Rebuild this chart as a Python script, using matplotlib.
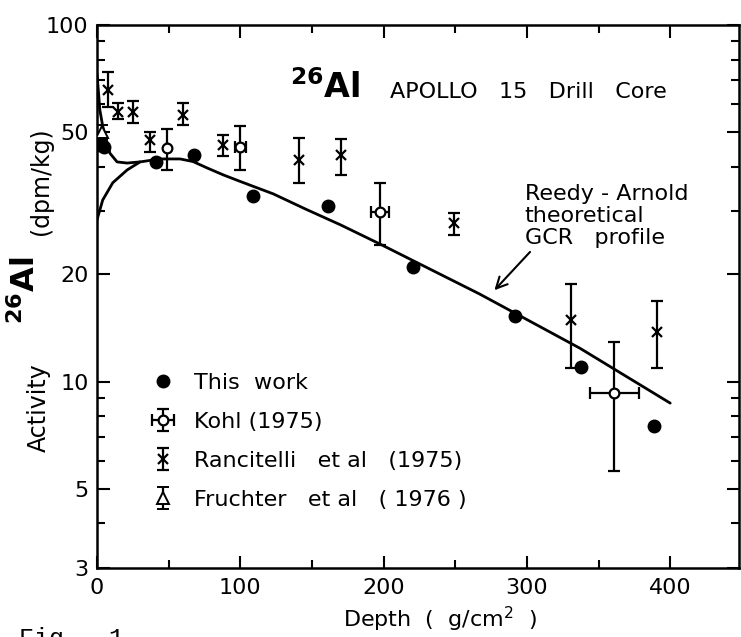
import matplotlib
matplotlib.use("Agg")
import matplotlib.pyplot as plt
from matplotlib.ticker import FixedLocator, NullFormatter, FixedFormatter

# ---- data ----
this_depth = [2, 5, 41, 68, 109, 161, 220.5, 292, 338, 389]
this_act = [46.0, 45.5, 41.3, 43.2, 33.1, 31.1, 21.0, 15.3, 11.0, 7.5]

kohl_depth = [49, 100, 197.5, 361]
kohl_act = [45.2, 45.5, 29.9, 9.3]
kohl_lo = [39.2, 39.2, 24.1, 5.6]
kohl_hi = [51.1, 52.1, 36.1, 12.9]
kohl_xerr = [0, 4, 6, 17]

ranc_depth = [8, 15, 25, 37, 60, 88, 141, 170, 249, 331, 391]
ranc_act = [65.7, 57.0, 57.0, 47.6, 55.9, 46.1, 41.8, 43.2, 27.8, 14.9, 13.8]
ranc_lo = [58.9, 54.5, 53.1, 44.0, 52.4, 42.9, 36.1, 38.0, 25.8, 10.9, 10.9]
ranc_hi = [73.8, 60.4, 61.2, 50.1, 60.4, 49.1, 48.2, 47.9, 29.7, 18.8, 16.8]

fru_depth = [3.5]
fru_act = [50.2]
fru_lo = [48.0]
fru_hi = [52.5]

gcr_depth = [0, 4, 11, 21, 30, 44, 58, 67, 77, 88, 100, 123, 146, 170, 197.5, 267, 337, 400]
gcr_act = [28.4, 32.3, 36.1, 39.2, 41.3, 42.1, 42.1, 41.4, 39.7, 38.0, 36.4, 33.6, 30.4, 27.5,
           24.3, 17.6, 12.4, 8.7]

scr_depth = [0, 1, 2, 4, 6, 9, 14, 21, 30]
scr_act = [73.0, 65.0, 57.7, 52.0, 48.5, 43.7, 41.3, 41.0, 41.3]

yticks = [3, 5, 10, 20, 50, 100]
yminor = [4, 6, 7, 8, 9, 30, 40, 60, 70, 80, 90]
xticks = [0, 100, 200, 300, 400]
xminor = [50, 150, 250, 350]

# ---- figure ----
plt.rcParams['font.family'] = ['DejaVu Sans']
fig = plt.figure(figsize=(7.41, 6.37), dpi=100)
ax = fig.add_axes([0.1309, 0.1083, 0.8664, 0.8525])
ax.set_yscale('log')
ax.set_xlim(0, 448)
ax.set_ylim(3, 100)

lw = 1.6
ax.plot(gcr_depth, gcr_act, color='black', lw=2.0, solid_capstyle='round',
        solid_joinstyle='round', zorder=2)
ax.plot(scr_depth, scr_act, color='black', lw=2.0, solid_capstyle='round',
        solid_joinstyle='round', zorder=2)

h_this, = ax.plot(this_depth, this_act, 'o', color='black', ms=9, ls='none', zorder=4)

kerr = [[a - l for a, l in zip(kohl_act, kohl_lo)], [h - a for a, h in zip(kohl_act, kohl_hi)]]
h_kohl = ax.errorbar(kohl_depth, kohl_act, yerr=kerr, xerr=kohl_xerr, fmt='o', mfc='white',
                     mec='black', mew=1.6, ms=7, ecolor='black', elinewidth=lw, capsize=4,
                     capthick=lw, zorder=5)

rerr = [[a - l for a, l in zip(ranc_act, ranc_lo)], [h - a for a, h in zip(ranc_act, ranc_hi)]]
h_ranc = ax.errorbar(ranc_depth, ranc_act, yerr=rerr, fmt='x', color='black', mew=1.6, ms=7,
                     ecolor='black', elinewidth=lw, capsize=4, capthick=lw, zorder=5)

ferr = [[a - l for a, l in zip(fru_act, fru_lo)], [h - a for a, h in zip(fru_act, fru_hi)]]
h_fru = ax.errorbar(fru_depth, fru_act, yerr=ferr, fmt='^', mfc='white', mec='black', mew=1.4,
                    ms=8, ecolor='black', elinewidth=lw, capsize=4, capthick=lw, zorder=5)

# ticks
for s in ax.spines.values():
    s.set_linewidth(1.8)
ax.yaxis.set_major_locator(FixedLocator(yticks))
ax.yaxis.set_major_formatter(FixedFormatter([str(v) for v in yticks]))
ax.yaxis.set_minor_locator(FixedLocator(yminor))
ax.yaxis.set_minor_formatter(NullFormatter())
ax.xaxis.set_major_locator(FixedLocator(xticks))
ax.xaxis.set_minor_locator(FixedLocator(xminor))
ax.tick_params(which='both', direction='in', top=True, right=True, width=1.5, labelsize=16)
ax.tick_params(which='major', length=9)
ax.tick_params(which='minor', length=6)
ax.tick_params(axis='x', pad=7)
ax.tick_params(axis='y', pad=6)

# legend
leg = ax.legend([h_this, h_kohl, h_ranc, h_fru],
                ['This  work', 'Kohl (1975)', 'Rancitelli   et al   (1975)',
                 'Fruchter   et al   ( 1976 )'],
                loc='upper left', bbox_to_anchor=(0.085, 0.36), frameon=False, fontsize=16,
                handlelength=1.0, handletextpad=0.9, labelspacing=0.86, borderpad=0,
                borderaxespad=0)

# annotations
ax.text(0.30, 0.866, r'$^{\mathbf{26}}$Al', transform=ax.transAxes, fontsize=24,
        fontweight='bold', ha='left', va='baseline')
ax.text(0.456, 0.866, 'APOLLO   15   Drill   Core', transform=ax.transAxes, fontsize=16,
        ha='left', va='baseline')
ax.text(0.666, 0.648, 'Reedy - Arnold\ntheoretical\nGCR   profile', transform=ax.transAxes,
        fontsize=16, ha='left', va='center', linespacing=1.12)
ax.annotate('', xy=(276, 17.8), xytext=(303.5, 23.4),
            arrowprops=dict(arrowstyle='->', color='black', lw=1.5, mutation_scale=20))

# axis labels
fig.text(0.594, 0.016, 'Depth  (  g/cm$^2$  )', ha='center', va='baseline', fontsize=16)
fig.text(0.052, 0.36, 'Activity', rotation=90, ha='center', va='center', fontsize=17)
fig.text(0.034, 0.545, r'$^{\mathbf{26}}$Al', rotation=90, ha='center', va='center',
         fontsize=23, fontweight='bold')
fig.text(0.055, 0.715, '(dpm/kg)', rotation=90, ha='center', va='center', fontsize=17)
fig.text(0.025, 0.016, 'Fig.  1', ha='left', va='top', fontsize=18,
         family=['Liberation Mono', 'DejaVu Sans Mono'])

fig.savefig('out.png', dpi=100)
